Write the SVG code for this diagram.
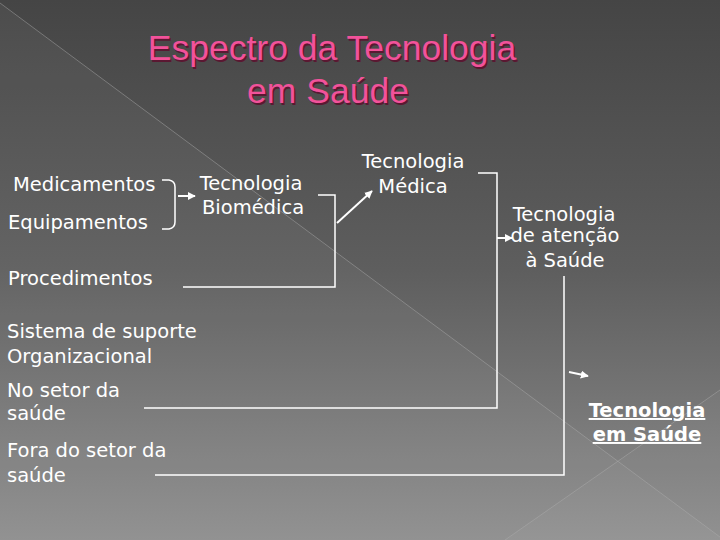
<svg xmlns="http://www.w3.org/2000/svg" width="720" height="540" viewBox="0 0 720 540">
<defs>
<linearGradient id="bg" x1="0" y1="0" x2="0" y2="1">
<stop offset="0" stop-color="#454545"/>
<stop offset="0.5" stop-color="#5e5e5e"/>
<stop offset="1" stop-color="#8e8e8e"/>
</linearGradient>
<marker id="ah" viewBox="0 0 10 10" refX="9" refY="5" markerWidth="4" markerHeight="4" orient="auto" markerUnits="strokeWidth">
<path d="M0,0 L10,5 L0,10 Z" fill="#ffffff"/>
</marker>
<style>
.t{font-family:"DejaVu Sans","Liberation Sans",sans-serif;font-size:19.5px;fill:#ffffff}
.c{text-anchor:middle}
.b{font-weight:bold;text-decoration:underline}
.ttl{font-family:"Liberation Sans",Arial,sans-serif;font-size:35.5px;text-anchor:middle}
.ln{fill:none;stroke:#ffffff;stroke-width:1.5}
.ar{fill:none;stroke:#ffffff;stroke-width:2;marker-end:url(#ah)}
.deco{stroke:#b0b0b0;stroke-opacity:0.45;stroke-width:1}
</style>
</defs>
<rect x="0" y="0" width="720" height="540" fill="url(#bg)"/>
<polygon points="0,3 720,537 720,540 0,540" fill="#ffffff" fill-opacity="0.04"/>
<polygon points="505,540 720,390 720,540" fill="#ffffff" fill-opacity="0.03"/>
<line class="deco" x1="0" y1="3" x2="720" y2="537"/>
<line class="deco" x1="505" y1="540" x2="720" y2="390"/>

<g id="title">
<text class="ttl" x="333.5" y="61.5" fill="#5a1832">Espectro da Tecnologia</text>
<text class="ttl" x="329.5" y="104.5" fill="#5a1832">em Saúde</text>
<text class="ttl" x="332" y="60" fill="#f2529a">Espectro da Tecnologia</text>
<text class="ttl" x="328" y="103" fill="#f2529a">em Saúde</text>
</g>

<g id="connectors">
<path class="ln" d="M162,180 L169,180 Q175,181 175,187 L175,222 Q175,228 169,229 L162,229"/>
<line class="ar" x1="178" y1="196" x2="195" y2="196"/>
<polyline class="ln" points="318,195 335,195 335,287 183,287"/>
<line class="ar" x1="337" y1="223" x2="372" y2="191"/>
<polyline class="ln" points="478,173 497,173 497,408 144,408"/>
<line class="ar" x1="497" y1="238" x2="512" y2="238"/>
<polyline class="ln" points="564,276 564,475 155,475"/>
<line class="ar" x1="569" y1="372" x2="588" y2="376"/>
</g>

<g id="medicamentos"><text class="t" x="13" y="191">Medicamentos</text></g>
<g id="equipamentos"><text class="t" x="8" y="229">Equipamentos</text></g>
<g id="procedimentos"><text class="t" x="8" y="285">Procedimentos</text></g>
<g id="sistema"><text class="t" x="7" y="338">Sistema de suporte</text><text class="t" x="7" y="363">Organizacional</text></g>
<g id="no-setor"><text class="t" x="7" y="397">No setor da</text><text class="t" x="7" y="420">saúde</text></g>
<g id="fora-setor"><text class="t" x="7" y="457">Fora do setor da</text><text class="t" x="7" y="482">saúde</text></g>
<g id="biomedica"><text class="t c" x="251" y="190">Tecnologia</text><text class="t c" x="253" y="214">Biomédica</text></g>
<g id="medica"><text class="t c" x="413" y="168">Tecnologia</text><text class="t c" x="413" y="193">Médica</text></g>
<g id="atencao"><text class="t c" x="564" y="221">Tecnologia</text><text class="t c" x="565" y="242">de atenção</text><text class="t c" x="565" y="267">à Saúde</text></g>
<g id="tec-saude"><text class="t c b" x="647" y="417">Tecnologia</text><text class="t c b" x="647" y="441">em Saúde</text></g>
</svg>
